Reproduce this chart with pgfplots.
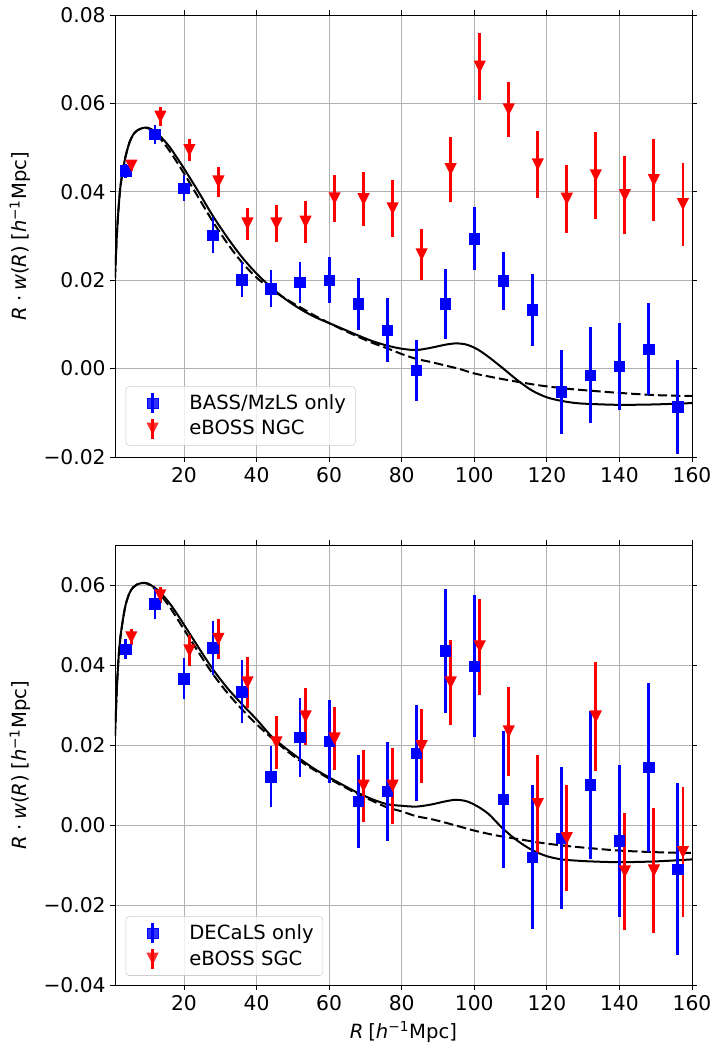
\documentclass[border=0pt]{standalone}
\usepackage{pgfplots}
\pgfplotsset{compat=1.18}
\usepackage{fontspec}
\setmainfont{DejaVu Sans}
\pgfdeclareplotmark{tridown}{%
  \pgfpathmoveto{\pgfqpoint{0pt}{-\pgfplotmarksize}}%
  \pgfpathlineto{\pgfqpoint{-\pgfplotmarksize}{\pgfplotmarksize}}%
  \pgfpathlineto{\pgfqpoint{\pgfplotmarksize}{\pgfplotmarksize}}%
  \pgfpathclose\pgfusepathqfill}
\pgfplotsset{
  common/.style={
    scale only axis, anchor=south west, width=432.75pt,
    xmin=1, xmax=160,
    xtick={20,40,60,80,100,120,140,160},
    xticklabels={20,40,60,80,100,120,140,160},
    scaled ticks=false,
    grid=major, grid style={color=black!31, line width=0.6pt},
    tick align=outside, tick pos=both, major tick length=3.5pt,
    axis line style={line width=0.6pt}, tick style={black, line width=0.6pt},
    font=\fontsize{14.7}{17.5}\selectfont,
    ticklabel style={font=\fontsize{15.2}{18}\selectfont},
    xticklabel style={yshift=-0.5pt},
    ylabel={\textit{R}\hspace{3.5pt}·\hspace{3.5pt}\textit{w}(\textit{R})\hspace{4pt}[\textit{h}\textsuperscript{−1}Mpc]},
    ylabel style={at={(axis description cs:-0.1646,0.5)}, anchor=center, rotate=0},
    legend cell align=left,
    legend image code/.code={
      \path[draw=none, fill=none] (-15pt,0pt) -- (4pt,0pt);
      \draw[##1, line width=2.1pt] (0pt,-7.5pt) -- (0pt,7.5pt);
      \draw[##1, only marks] plot coordinates {(0pt,0pt)};
    },
    legend style={anchor=south west, draw=black!20, rounded corners=2.5pt,
      fill=white, fill opacity=0.8, text opacity=1, inner xsep=5pt, inner ysep=4pt,
      row sep=2pt, font=\fontsize{14.7}{17.5}\selectfont},
  },
  solidm/.style={black, line width=1.5pt, smooth, tension=0.5, no marks},
  dashm/.style={black, line width=1.5pt, dash pattern=on 7pt off 3pt, smooth, tension=0.5, no marks},
  bluep/.style={blue, only marks, mark=square*, mark size=4pt,
    error bars/.cd, y dir=both, y explicit, error mark=none,
    error bar style={line width=2.1pt, blue}},
  redp/.style={red, only marks, mark=tridown, mark size=4.6pt,
    error bars/.cd, y dir=both, y explicit, error mark=none,
    error bar style={line width=2.1pt, red}},
}
\begin{document}
\begin{tikzpicture}
\path[use as bounding box] (0,0) rectangle (539.25pt,790.5pt);
% ---------------- top panel ----------------
\begin{axis}[common, at={(86.25pt,447.75pt)}, height=331.5pt,
  ymin=-0.02, ymax=0.08,
  ytick={-0.02,0,0.02,0.04,0.06,0.08},
  yticklabels={−0.02,0.00,0.02,0.04,0.06,0.08},
  legend style={at={(axis description cs:0.0185,0.0256)}}]
\addplot[solidm, forget plot] coordinates {
(1,0.0205) (1.5,0.0300) (2,0.0365) (2.5,0.0412) (3.3,0.0455) (4,0.0483) (5,0.0512)
(6,0.0529) (7,0.0538) (8.5,0.0544) (10,0.0545) (12,0.0537) (14,0.0521) (16,0.0502)
(18,0.0478) (20,0.0453) (24,0.0400) (28,0.0345) (32,0.0296) (36,0.0252) (40,0.0215)
(44,0.0184) (48,0.0157) (52,0.0135) (56,0.0117) (60,0.0103) (64,0.0089) (68,0.0075)
(72,0.0062) (76,0.0052) (80,0.0045) (84,0.0042) (88,0.0047) (92,0.0054) (95,0.0057)
(98,0.0054) (101,0.0043) (104,0.0026) (108,0.0000) (112,-0.0027) (116,-0.0050)
(120,-0.0065) (124,-0.0073) (128,-0.0078) (132,-0.0080) (140,-0.0082) (150,-0.0081) (160,-0.0078)};
\addplot[dashm, forget plot] coordinates {
(1,0.0205) (1.5,0.0300) (2,0.0365) (2.5,0.0412) (3.3,0.0455) (4,0.0483) (5,0.0512)
(6,0.0529) (7,0.0538) (8.5,0.0544) (10,0.0544) (12,0.0533) (14,0.0515) (16,0.0493)
(18,0.0468) (20,0.0442) (24,0.0387) (28,0.0332) (32,0.0283) (36,0.0240) (40,0.0206)
(44,0.0180) (48,0.0158) (52,0.0139) (56,0.0120) (60,0.0103) (64,0.0087) (68,0.0072)
(72,0.0058) (76,0.0046) (80,0.0033) (84,0.0022) (88,0.0015) (92,0.0007) (96,-0.0001)
(100,-0.0011) (106,-0.0021) (112,-0.0030) (118,-0.0038) (125,-0.0045) (132,-0.0050)
(140,-0.0055) (150,-0.0060) (160,-0.0062)};
\addplot[bluep] table[x=x, y=y, y error=e] {
x y e
4 0.0447 0.0015
12 0.0530 0.0021
20 0.0408 0.0029
28 0.0302 0.0041
36 0.0201 0.0040
44 0.0181 0.0042
52 0.0195 0.0047
60 0.0200 0.0052
68 0.0147 0.0059
76 0.0087 0.0072
84 -0.0004 0.0069
92 0.0147 0.0079
100 0.0294 0.0072
108 0.0198 0.0065
116 0.0133 0.0082
124 -0.0053 0.0094
132 -0.0015 0.0108
140 0.0005 0.0099
148 0.0044 0.0104
156 -0.0087 0.0106
};
\addlegendentry{\hspace{21pt}BASS/MzLS only}
\addplot[redp] table[x=x, y=y, y error=e] {
x y e
5.5 0.0459 0.0012
13.5 0.0570 0.0021
21.5 0.0494 0.0025
29.5 0.0423 0.0034
37.5 0.0328 0.0036
45.5 0.0328 0.0042
53.5 0.0332 0.0048
61.5 0.0385 0.0054
69.5 0.0383 0.0061
77.5 0.0362 0.0064
85.5 0.0258 0.0057
93.5 0.0451 0.0073
101.5 0.0683 0.0076
109.5 0.0586 0.0062
117.5 0.0462 0.0075
125.5 0.0384 0.0077
133.5 0.0437 0.0098
141.5 0.0392 0.0088
149.5 0.0426 0.0093
157.5 0.0372 0.0094
};
\addlegendentry{\hspace{21pt}eBOSS NGC}
\end{axis}
% ---------------- bottom panel ----------------
\begin{axis}[common, at={(86.25pt,51.75pt)}, height=330pt,
  ymin=-0.04, ymax=0.07,
  ytick={-0.04,-0.02,0,0.02,0.04,0.06},
  yticklabels={−0.04,−0.02,0.00,0.02,0.04,0.06},
  xlabel={\textit{R}\hspace{3.5pt}[\textit{h}\textsuperscript{−1}Mpc]},
  xlabel style={at={(axis description cs:0.5,-0.106)}, anchor=center},
  legend style={at={(axis description cs:0.0185,0.021)}}]
\addplot[solidm, forget plot] coordinates {
(1,0.0223) (1.5,0.0340) (2,0.0420) (2.5,0.0470) (3.3,0.0520) (4,0.0553) (5,0.0580)
(6,0.0594) (7,0.0601) (8.5,0.0605) (10,0.0604) (12,0.0593) (14,0.0576) (16,0.0555)
(18,0.0529) (20,0.0501) (24,0.0444) (28,0.0389) (32,0.0342) (36,0.0302) (40,0.0264)
(44,0.0223) (48,0.0192) (52,0.0165) (56,0.0140) (60,0.0119) (64,0.0099) (68,0.0080)
(72,0.0064) (76,0.0052) (80,0.0048) (84,0.0046) (88,0.0051) (92,0.0059) (95,0.0063)
(98,0.0059) (101,0.0046) (104,0.0027) (108,-0.0010) (112,-0.0040) (116,-0.0063)
(120,-0.0078) (124,-0.0086) (128,-0.0089) (132,-0.0091) (140,-0.0093) (150,-0.0091) (160,-0.0086)};
\addplot[dashm, forget plot] coordinates {
(1,0.0223) (1.5,0.0340) (2,0.0420) (2.5,0.0470) (3.3,0.0520) (4,0.0553) (5,0.0580)
(6,0.0594) (7,0.0601) (8.5,0.0605) (10,0.0603) (12,0.0590) (14,0.0570) (16,0.0546)
(18,0.0518) (20,0.0489) (24,0.0432) (28,0.0377) (32,0.0330) (36,0.0289) (40,0.0252)
(44,0.0219) (48,0.0188) (52,0.0160) (56,0.0137) (60,0.0116) (64,0.0096) (68,0.0077)
(72,0.0060) (76,0.0044) (80,0.0034) (84,0.0022) (88,0.0015) (92,0.0006) (96,-0.0004)
(100,-0.0014) (106,-0.0026) (112,-0.0035) (118,-0.0044) (125,-0.0052) (132,-0.0058)
(140,-0.0064) (150,-0.0068) (160,-0.0070)};
\addplot[bluep] table[x=x, y=y, y error=e] {
x y e
4 0.0439 0.0025
12 0.0553 0.0039
20 0.0366 0.0052
28 0.0443 0.0067
36 0.0333 0.0079
44 0.0121 0.0077
52 0.0219 0.0099
60 0.0209 0.0103
68 0.0059 0.0116
76 0.0084 0.0123
84 0.0179 0.0120
92 0.0436 0.0155
100 0.0397 0.0178
108 0.0064 0.0172
116 -0.0081 0.0180
124 -0.0033 0.0177
132 0.0101 0.0185
140 -0.0040 0.0190
148 0.0144 0.0212
156 -0.0111 0.0215
};
\addlegendentry{\hspace{21pt}DECaLS only}
\addplot[redp] table[x=x, y=y, y error=e] {
x y e
5.5 0.0469 0.0020
13.5 0.0574 0.0020
21.5 0.0436 0.0038
29.5 0.0465 0.0049
37.5 0.0356 0.0063
45.5 0.0206 0.0066
53.5 0.0271 0.0072
61.5 0.0216 0.0079
69.5 0.0098 0.0090
77.5 0.0098 0.0095
85.5 0.0197 0.0092
93.5 0.0356 0.0107
101.5 0.0446 0.0120
109.5 0.0234 0.0112
117.5 0.0052 0.0122
125.5 -0.0033 0.0133
133.5 0.0271 0.0136
141.5 -0.0116 0.0146
149.5 -0.0114 0.0156
157.5 -0.0068 0.0163
};
\addlegendentry{\hspace{21pt}eBOSS SGC}
\end{axis}
\end{tikzpicture}
\end{document}
